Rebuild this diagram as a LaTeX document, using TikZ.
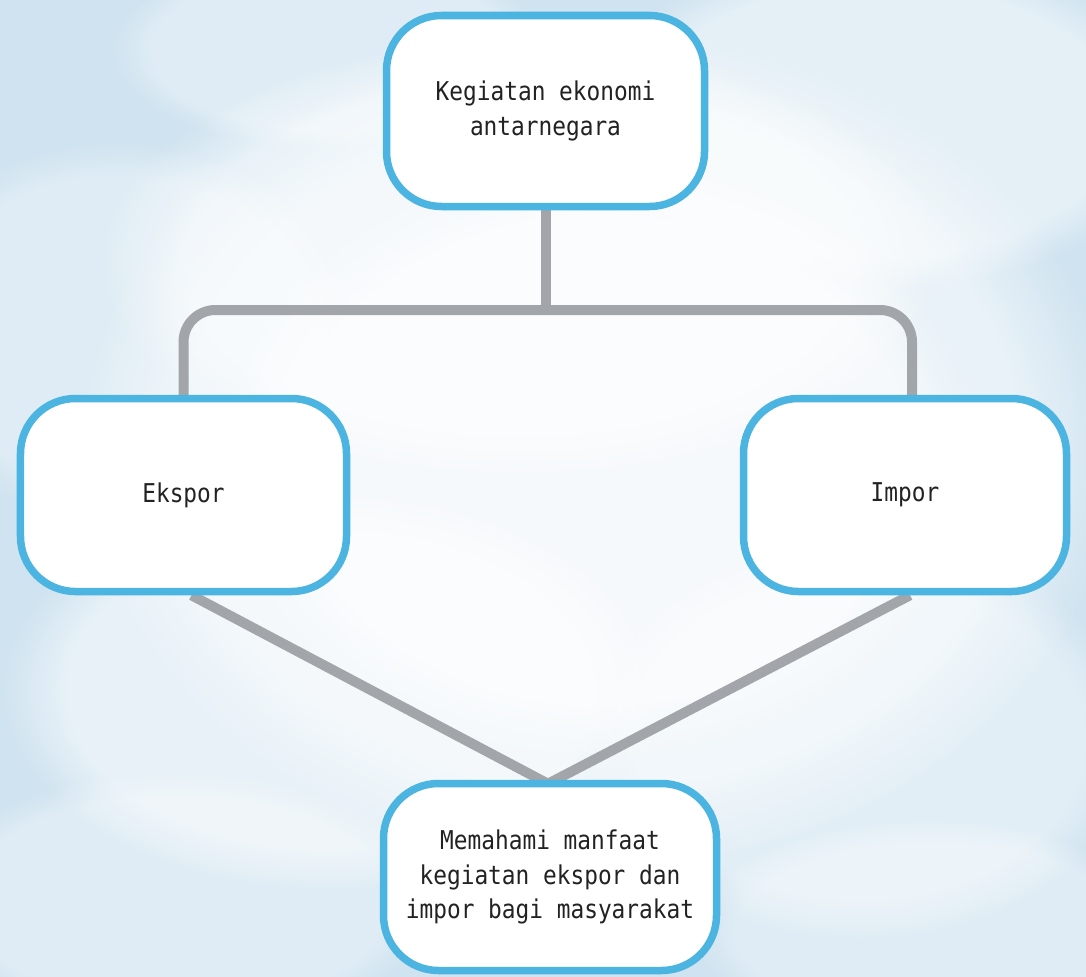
\documentclass[tikz,border=0pt]{standalone}
\usepackage{fontspec}
\setmonofont[FakeStretch=0.88]{DejaVu Sans Mono}
\usetikzlibrary{fadings}
\definecolor{sky}{HTML}{CFE3F0}
\definecolor{boxblue}{HTML}{4BB4E0}
\definecolor{conngray}{HTML}{A2A6AA}
\definecolor{txt}{HTML}{222222}
\pgfdeclarelayer{bg}
\pgfdeclarelayer{lines}
\pgfsetlayers{bg,lines,main}
\tikzset{
  boxnode/.style={draw=boxblue, line width=7.5bp, fill=white, rounded corners=55bp,
    align=center, text=txt, font=\ttfamily\fontsize{26}{35}\selectfont, inner sep=0pt},
  conn/.style={draw=conngray, line width=10bp, line join=round},
  cloud/.style={fill=white, path fading=circle with fuzzy edge 20 percent},
}
\begin{document}
\begin{tikzpicture}[x=1bp, y=-1bp]
\useasboundingbox (0,0) rectangle (1086,977);
\begin{pgfonlayer}{bg}
  \fill[sky] (0,0) rectangle (1086,977);
  \fill[cloud, opacity=0.55] (600,450) ellipse (520 and 420);
  \fill[cloud, opacity=0.6] (600,460) ellipse (380 and 300);
  \fill[cloud, opacity=0.5] (520,260) ellipse (420 and 220);
  \fill[cloud, opacity=0.45] (880,120) ellipse (300 and 170);
  \fill[cloud, opacity=0.35] (120,330) ellipse (240 and 190);
  \fill[cloud, opacity=0.5] (330,690) ellipse (330 and 200);
  \fill[cloud, opacity=0.4] (860,740) ellipse (280 and 200);
  \fill[cloud, opacity=0.35] (180,900) ellipse (260 and 130);
  \fill[cloud, opacity=0.35] (930,930) ellipse (240 and 110);
  \fill[cloud, opacity=0.35] (330,50) ellipse (220 and 100);
\end{pgfonlayer}

\node[boxnode, minimum width=318bp, minimum height=191bp] (top) at (545.5,111) {Kegiatan ekonomi\\antarnegara};
\node[boxnode, minimum width=326bp, minimum height=193bp] (ek) at (183.5,495) {Ekspor};
\node[boxnode, minimum width=323bp, minimum height=193bp] (im) at (905,495) {Impor};
\node[boxnode, minimum width=333bp, minimum height=187bp] (bt) at (550,877) {Memahami manfaat\\kegiatan ekspor dan\\impor bagi masyarakat};

\begin{pgfonlayer}{lines}
  \coordinate (j) at (545.5,310);
  \draw[conn] (top.south) -- (j);
  \draw[conn, rounded corners=32bp] (ek.north) |- (j) -| ([xshift=7bp]im.north);
  \draw[conn] ([xshift=8bp]ek.south) -- ([xshift=-2bp,yshift=-4bp]bt.north) -- ([xshift=5bp]im.south);
\end{pgfonlayer}
\end{tikzpicture}
\end{document}
